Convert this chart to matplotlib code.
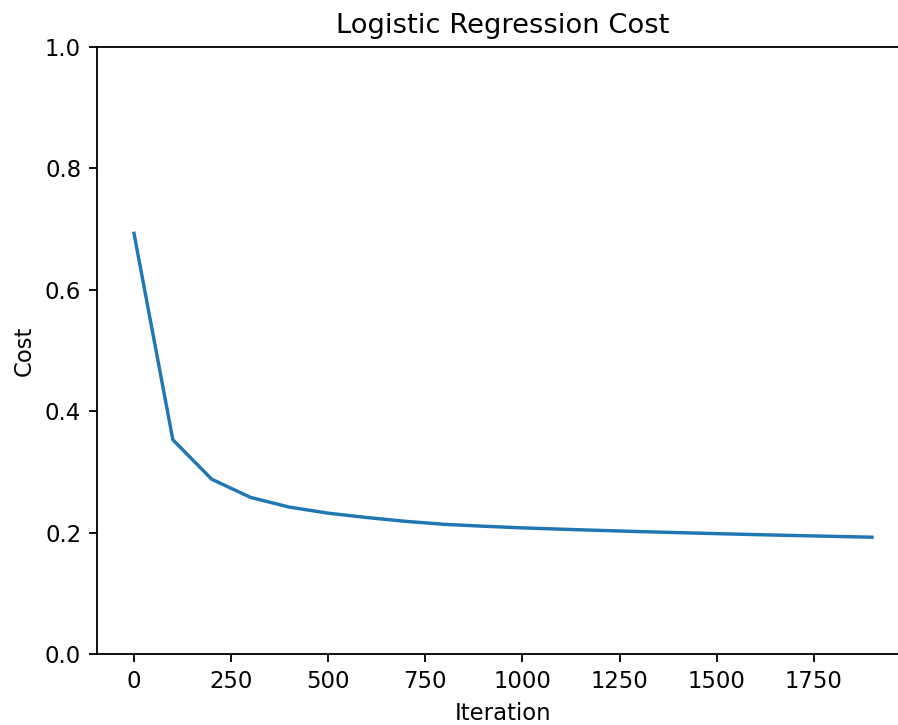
import matplotlib
matplotlib.use("Agg")
import matplotlib.pyplot as plt

iterations = [0, 100, 200, 300, 400, 500, 600, 700, 800, 900, 1000,
              1100, 1200, 1300, 1400, 1500, 1600, 1700, 1800, 1900]
costs = [0.693, 0.353, 0.288, 0.258, 0.242, 0.232, 0.2248, 0.2185, 0.2136, 0.2105,
         0.2078, 0.2056, 0.2036, 0.2017, 0.2000, 0.1983, 0.1967, 0.1952, 0.1938, 0.1924]

title = "Logistic Regression Cost"
xlabel = "Iteration"
ylabel = "Cost"

DPI = 164
fig = plt.figure(figsize=(898 / DPI, 725 / DPI), dpi=DPI)
W, H = 898, 725
left, right, top, bottom = 97.1, 908.9, 47, 654
ax = fig.add_axes([left / W, (H - bottom) / H, (right - left) / W, (bottom - top) / H])
ax.plot(iterations, costs, color="#1f77b4", linewidth=1.5)
ax.set_ylim(0, 1.0)
ax.set_title(title, fontsize=12)
ax.set_xlabel(xlabel)
ax.set_ylabel(ylabel)

fig.savefig("out.png", dpi=DPI)
